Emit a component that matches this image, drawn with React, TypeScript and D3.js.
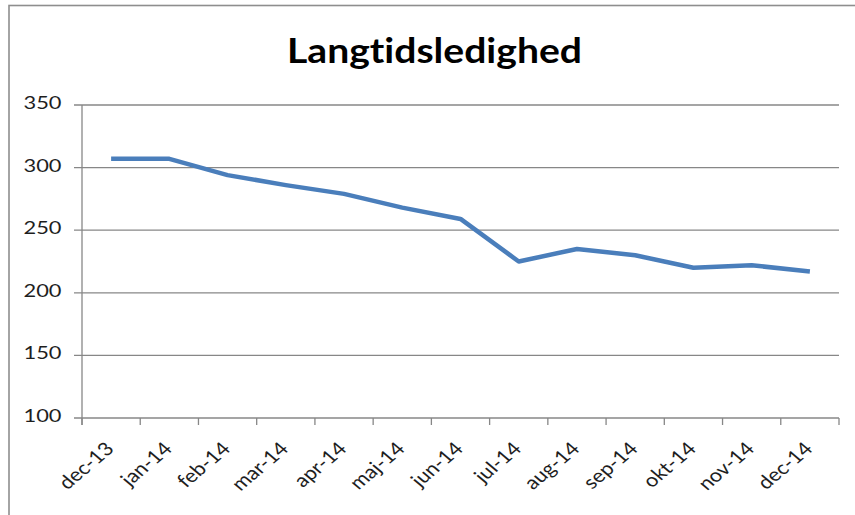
import * as d3 from 'd3';

const title = 'Langtidsledighed';
const months = [
  'dec-13', 'jan-14', 'feb-14', 'mar-14', 'apr-14', 'maj-14', 'jun-14',
  'jul-14', 'aug-14', 'sep-14', 'okt-14', 'nov-14', 'dec-14'
];
const values = [307, 307, 294, 286, 279, 268, 259, 225, 235, 230, 220, 222, 217];
const yTicks = [100, 150, 200, 250, 300, 350];

const W = 855;
const H = 515;
const plot = { left: 82, right: 839, top: 105, bottom: 418 };
const gray = '#878787';
const font = 'Lato, "Open Sans", sans-serif';

export default function App() {
  const x = d3.scaleBand<string>().domain(months).range([plot.left, plot.right]).paddingInner(0).paddingOuter(0);
  const y = d3.scaleLinear().domain([100, 350]).range([plot.bottom, plot.top]);
  const cx = (m: string) => (x(m) ?? 0) + x.bandwidth() / 2;

  const line = d3
    .line<number>()
    .x((_, i) => cx(months[i]))
    .y(v => y(v));

  const tickXs = [...months.map(m => x(m) ?? 0), plot.right];

  return (
    <svg
      width={W}
      height={H}
      style={{ position: 'fixed', left: 0, top: 0, background: '#fff', fontVariantLigatures: 'none' }}
      fontFamily={font}
    >
      <rect x={9} y={5.5} width={900} height={600} fill="#fff" stroke="#8e8e8e" strokeWidth={1.6} />

      <text
        x={434.5}
        y={63}
        textAnchor="middle"
        fontSize={34}
        fontWeight={700}
        fill="#000"
        textLength={295}
        lengthAdjust="spacingAndGlyphs"
        style={{ fontVariantLigatures: 'none' }}
      >
        {title}
      </text>

      {/* gridlines + y ticks */}
      {yTicks.map(t => (
        <g key={t}>
          <line x1={plot.left - 8} x2={plot.right} y1={y(t)} y2={y(t)} stroke={gray} strokeWidth={1.3} />
          <text
            x={61.5}
            y={y(t) + 4}
            textAnchor="end"
            fontSize={16.5}
            fill="#1e1e1e"
            textLength={38}
            lengthAdjust="spacingAndGlyphs"
          >
            {t}
          </text>
        </g>
      ))}

      {/* axes */}
      <line x1={plot.left} x2={plot.left} y1={plot.top} y2={plot.bottom + 7} stroke={gray} strokeWidth={1.3} />
      {tickXs.map((tx, i) => (
        <line key={i} x1={tx} x2={tx} y1={plot.bottom} y2={plot.bottom + 7} stroke={gray} strokeWidth={1.3} />
      ))}

      {months.map(m => (
        <text
          key={m}
          transform={`translate(${cx(m) + 4},${plot.bottom + 32}) scale(1.18,1) rotate(-45)`}
          textAnchor="end"
          fontSize={18.5}
          fill="#1e1e1e"
        >
          {m}
        </text>
      ))}

      <path
        d={line(values) ?? ''}
        fill="none"
        stroke="#4a7ebb"
        strokeWidth={4.5}
        strokeLinejoin="round"
        strokeLinecap="butt"
      />
    </svg>
  );
}
